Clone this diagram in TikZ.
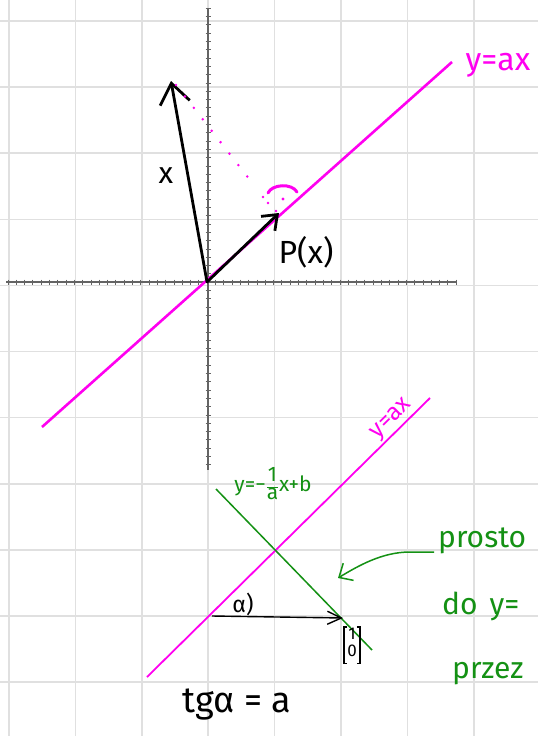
\documentclass[tikz,border=0pt]{standalone}
\usepackage{fontspec}
\setmainfont{Fira Sans}
\usetikzlibrary{arrows.meta}
\definecolor{mag}{RGB}{255,0,240}
\definecolor{grn}{RGB}{20,145,20}
\definecolor{gridc}{RGB}{224,224,224}
\definecolor{axisc}{RGB}{100,100,100}
\newcommand{\hsz}[1]{\fontsize{#1}{#1}\selectfont}
\begin{document}
\begin{tikzpicture}[x=1pt,y=-1pt,
  gridline/.style={gridc, line width=1.6pt},
  axisline/.style={axisc, line width=1.6pt},
  axtick/.style={axisc, line width=0.5pt},
  magline/.style={mag, line width=2.6pt},
  magthin/.style={mag, line width=1.8pt},
  grnline/.style={grn, line width=1.5pt},
  vecbig/.style={black, line width=2.8pt, line cap=round},
  vecthin/.style={black, line width=1.4pt},
  bracket/.style={black, line width=1.4pt},
  magtext/.style={mag, inner sep=0pt},
  grntext/.style={grn, inner sep=0pt},
  blktext/.style={black, inner sep=0pt}]
\useasboundingbox (0,0) rectangle (538,736);
\fill[white] (0,0) rectangle (538,736);
\clip (0,0) rectangle (538,736);
% grid
\foreach \i in {0,...,8} \draw[gridline] ({9+66.4*\i},0) -- ({9+66.4*\i},736);
\foreach \j in {0,...,10} \draw[gridline] (0,{21+66.1*\j}) -- (538,{21+66.1*\j});
% axes
\coordinate (O) at (207,282);
\coordinate (vt) at (208,8);
\coordinate (vb) at (208,470);
\coordinate (hl) at (6,282);
\coordinate (hr) at (456,282);
\draw[axisline] (vt) -- (vb);
\draw[axisline] (hl) -- (hr);
\foreach \k in {-24,...,30} \draw[axtick] ({207+8.3*\k},279.5) -- ({207+8.3*\k},284.5);
\foreach \k in {-33,...,22} \draw[axtick] (205.5,{282+8.3*\k}) -- (210.5,{282+8.3*\k});
% top magenta line
\coordinate (m1a) at (42,427);
\coordinate (m1b) at (452,62);
\draw[magline] (m1a) -- (m1b);
\node[magtext, anchor=base, font=\hsz{32}] (lab1) at (498,70) {y=ax};
% vectors
\coordinate (Xt) at (171,81);
\coordinate (Pt) at (279,213);
\draw[vecbig, -{Straight Barb[length=20pt,width=30pt]}] (O) -- (Xt);
\draw[vecbig, -{Straight Barb[length=13pt,width=20pt]}] (O) -- (Pt);
\node[blktext, font=\hsz{30}] (labX) at (166,176) {x};
\node[blktext, anchor=base, font=\hsz{32}] (labP) at (306,263) {P(x)};
% projection dots and right angle
\coordinate (dA) at (176,85);
\coordinate (dB) at (250,180);
\draw[mag, line width=2.8pt, line cap=round, dash pattern=on 0pt off 14.5pt] (dA) -- (dB);
\fill[mag] (263,197) circle (1.4pt) (268,203) circle (1.4pt) (276,211) circle (1.4pt) (283,199) circle (1.6pt);
\draw[mag, line width=3pt, line cap=round] (268,193) .. controls (272,184) and (292,183) .. (297,192);
% bottom construction
\coordinate (m2a) at (147,677);
\coordinate (m2b) at (430,398);
\draw[magthin] (m2a) -- (m2b);
\node[magtext, rotate=44.6, anchor=base, font=\hsz{24}] (lab2) at (395,422) {y=ax};
\coordinate (g1) at (216,489);
\coordinate (g2) at (372,650);
\draw[grnline] (g1) -- (g2);
\node[grntext, font=\hsz{21}] (lab3) at (273,486) {y=−\kern1pt{\setlength{\arrayrulewidth}{1.5pt}\renewcommand{\arraystretch}{0.75}\begin{tabular}{@{}c@{}}1\\\hline a\end{tabular}}\kern1pt x+b};
\coordinate (B1) at (212,616);
\coordinate (B2) at (343,618);
\draw[vecthin, -{Straight Barb[length=14pt,width=13pt]}] (B1) -- (B2);
\node[blktext, font=\hsz{23}] (alpha) at (243,604) {α)};
\node[blktext, font=\hsz{17}, inner xsep=3pt, inner ysep=1pt] (vec) at (352,645) {\begin{tabular}{@{}c@{}}1\\0\end{tabular}};
\draw[bracket] ([xshift=3pt]vec.north west) -- (vec.north west) -- (vec.south west) -- ([xshift=3pt]vec.south west);
\draw[bracket] ([xshift=-3pt]vec.north east) -- (vec.north east) -- (vec.south east) -- ([xshift=-3pt]vec.south east);
\node[blktext, anchor=base, font=\hsz{36}] (tg) at (237,712) {tgα = a};
% green note
\coordinate (ga) at (434,552);
\coordinate (gm) at (410,552);
\coordinate (gb) at (338,578);
\draw[grnline, -{Straight Barb[length=11pt,width=20pt]}] (ga) -- (gm) .. controls (382,552) and (358,566) .. (gb);
\node[grntext, anchor=base west, font=\hsz{30}] (t1) at (438,547) {prosto};
\node[grntext, anchor=base west, font=\hsz{30}] (t2) at (442,614) {do\hspace{12pt}y=};
\node[grntext, anchor=base west, font=\hsz{30}] (t3) at (452,678) {przez};
\end{tikzpicture}
\end{document}
